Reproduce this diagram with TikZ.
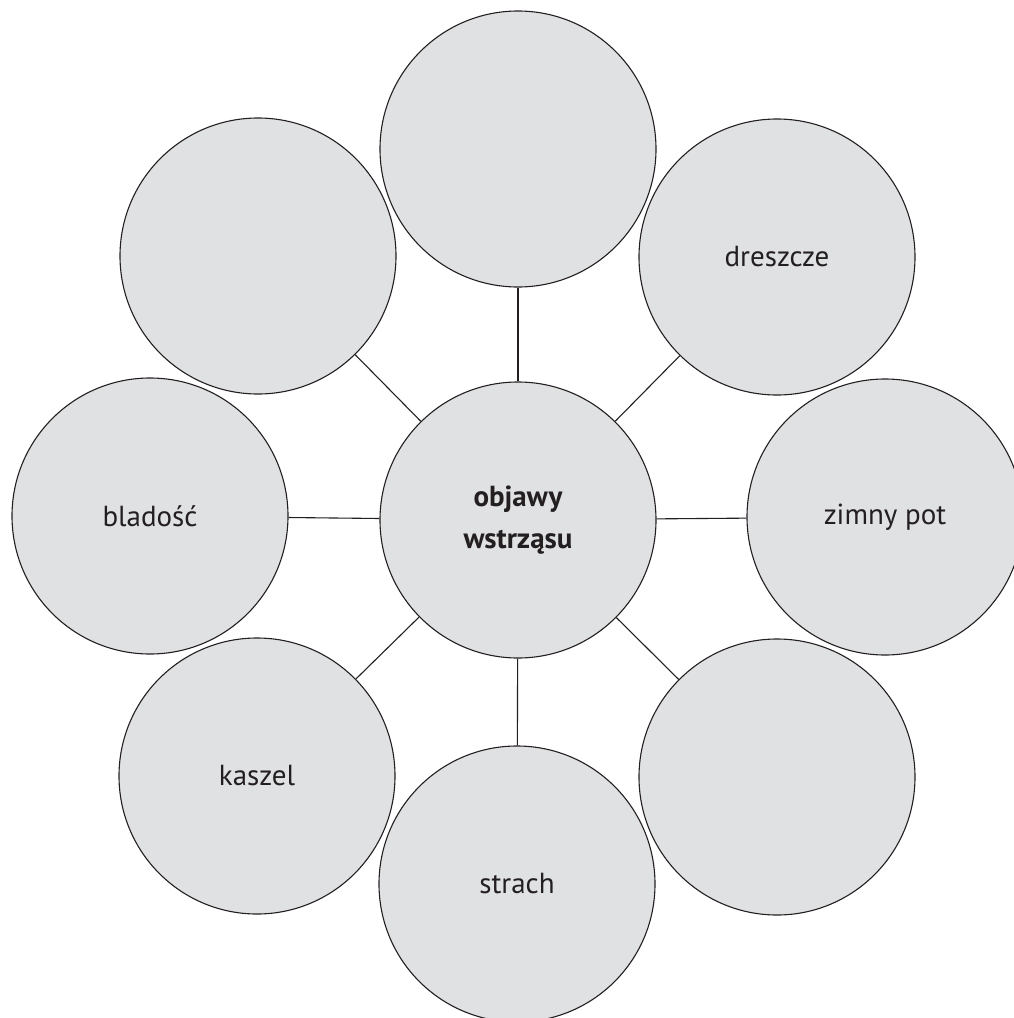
\documentclass[tikz,border=0pt]{standalone}
\usepackage{fontspec}
\setmainfont{PT Sans}
\definecolor{bubblegray}{HTML}{E0E1E3}
\definecolor{inkgray}{HTML}{231F20}
\begin{document}
\begin{tikzpicture}[x=1pt,y=-1pt,
  bubble/.style={circle,draw=inkgray,line width=1.1pt,fill=bubblegray,
    minimum size=276pt,inner sep=0pt,text=inkgray,
    font=\fontsize{29}{42}\selectfont},
  spoke/.style={draw=inkgray,line width=1.1pt}]
 \useasboundingbox (0,0) rectangle (1014,1018);
 \clip (0,0) rectangle (1014,1018);
 % outer ring
 \node[bubble] (top) at (518,149) {};
 \node[bubble] (topleft) at (258,256) {};
 \node[bubble] (topright) at (777,257) {dreszcze};
 \node[bubble] (left) at (150,516) {bladość};
 \node[bubble] (right) at (885,517) {zimny pot};
 \node[bubble] (botleft) at (257,776) {kaszel};
 \node[bubble] (botright) at (777,777) {};
 \node[bubble] (bottom) at (517,884) {strach};
 % middle
 \node[bubble,font=\fontsize{29}{42}\selectfont\bfseries,align=center] (mid) at (518,520) {objawy\\wstrząsu};
 \foreach \n in {top,topleft,topright,left,right,botleft,botright,bottom}
  \draw[spoke] (mid) -- (\n);
\end{tikzpicture}
\end{document}
